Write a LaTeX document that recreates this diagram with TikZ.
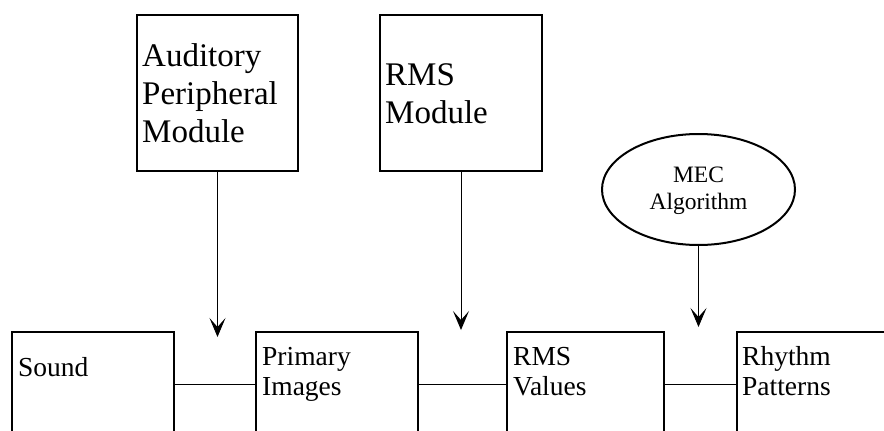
\documentclass[tikz,border=0pt]{standalone}
\usepackage{fontspec}
\setmainfont{Liberation Serif}
\usetikzlibrary{arrows.meta,shapes.geometric}
\tikzset{
  box/.style={draw=black, line width=2pt, rectangle, inner sep=0pt},
  oval/.style={draw=black, line width=2pt, ellipse, inner sep=0pt,
    minimum width=193pt, minimum height=111pt},
  link/.style={draw=black, line width=1pt},
  feed/.style={link, -{Stealth[length=19pt, width=16pt, inset=9pt]}},
  % multi-line text: the base anchor sits on the last line
  bigtxt/.style={anchor=base west, inner sep=0pt, align=left,
    font=\fontsize{33}{38}\selectfont},
  smalltxt/.style={anchor=base west, inner sep=0pt, align=left,
    font=\fontsize{27.5}{30}\selectfont},
}
\begin{document}
\begin{tikzpicture}[x=1pt, y=-1pt]
  \useasboundingbox (0,0) rectangle (884,431);
  \clip (0,0) rectangle (884,431);
  \fill[white] (0,0) rectangle (884,431);

  % module boxes on top
  \node[box, minimum width=161pt, minimum height=156pt] (apm) at (217.5,93) {};
  \node[box, minimum width=162pt, minimum height=156pt] (rmsm) at (461,93) {};
  \node[oval] (mec) at (698.5,189.5) {};

  \node[bigtxt] (apmtxt) at (142,142) {Auditory\\Peripheral\\Module};
  \node[bigtxt] (rmsmtxt) at (385,123) {RMS\\Module};
  \node[anchor=center, inner sep=0pt, align=center,
        font=\fontsize{23.5}{27}\selectfont] (mectxt) at (698.5,191) {MEC\\Algorithm};

  % processing chain along the bottom
  \node[box, minimum width=162pt, minimum height=104pt] (sound) at (93,384) {};
  \node[box, minimum width=162pt, minimum height=104pt] (prim) at (337,384) {};
  \node[box, minimum width=157pt, minimum height=104pt] (rmsv) at (585.5,384) {};
  \node[box, minimum width=163pt, minimum height=104pt] (rhy) at (818.5,384) {};

  \node[smalltxt] (soundtxt) at (18,376) {Sound};
  \node[smalltxt] (primtxt) at (262,395) {Primary\\Images};
  \node[smalltxt] (rmsvtxt) at (513,395) {RMS\\Values};
  \node[smalltxt] (rhytxt) at (742,395) {Rhythm\\Patterns};

  \draw[link] (sound.east) -- (prim.west);
  \draw[link] (prim.east) -- (rmsv.west);
  \draw[link] (rmsv.east) -- (rhy.west);

  % arrows from the modules onto the chain links
  \coordinate (t1) at (217.5,337);
  \coordinate (t2) at (461,330);
  \coordinate (t3) at (698.5,327);
  \draw[feed] (apm.south) -- (t1);
  \draw[feed] (rmsm.south) -- (t2);
  \draw[feed] (mec.south) -- (t3);
\end{tikzpicture}
\end{document}
